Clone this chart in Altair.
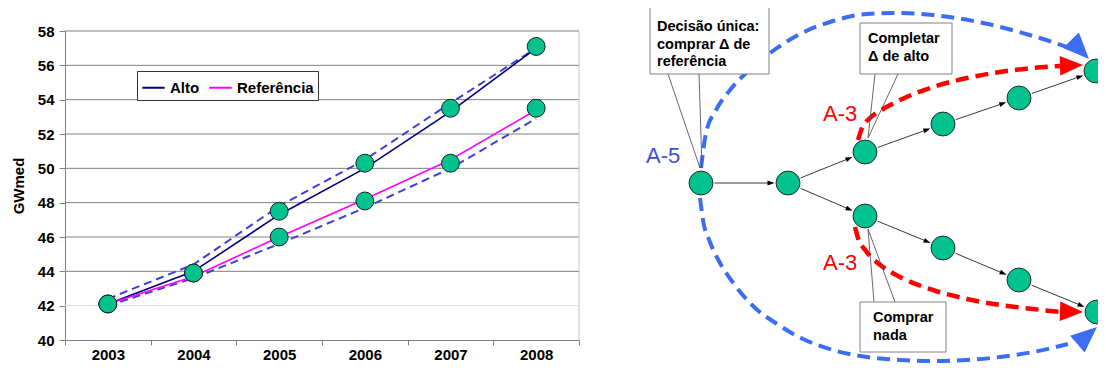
import math
import altair as alt
import pandas as pd

# ---------------- left chart data ----------------
years = [2003, 2004, 2005, 2006, 2007, 2008]
series_names = ["Alto", "Referência"]
alto = [42.1, 44.0, 47.3, 50.0, 53.3, 57.0]
referencia = [42.1, 43.7, 46.0, 48.2, 50.5, 53.4]
alto_marks = [42.1, 43.9, 47.5, 50.3, 53.5, 57.1]
ref_marks = [42.1, 43.9, 46.0, 48.1, 50.3, 53.5]
band_upper = [42.4, 44.4, 47.8, 50.5, 53.8, 57.0]
band_lower = [42.0, 43.6, 45.6, 47.7, 50.0, 52.9]
y_ticks = [40, 42, 44, 46, 48, 50, 52, 54, 56, 58]
x_edges = [2002.5, 2003.5, 2004.5, 2005.5, 2006.5, 2007.5, 2008.5]

# ---------------- right diagram data (diagram layout units) ----------------
node_x = [701, 788, 865, 943, 1019, 1096, 865, 943, 1019, 1097]
node_y = [183, 183, 152, 124, 98, 71, 216, 248, 280, 312]
edges_from = [0, 1, 2, 3, 4, 1, 6, 7, 8]
edges_to = [1, 2, 3, 4, 5, 6, 7, 8, 9]

blue_upper_x = [701, 706, 716, 730, 747, 770, 800, 833, 867, 900, 933, 983, 1033, 1067]
blue_upper_y = [168, 133, 110, 90, 72, 53, 34, 21, 14, 13, 15, 23, 36, 47]
blue_lower_x = [700, 703, 710, 720, 734, 753, 777, 803, 833, 867, 900, 933, 967, 1000, 1033, 1068]
blue_lower_y = [198, 220, 242, 263, 284, 306, 324, 339, 350, 357, 360, 361, 360, 357, 352, 344]
red_upper_x = [858, 862, 870, 883, 900, 933, 967, 1000, 1033, 1060]
red_upper_y = [140, 128, 118, 109, 100, 87, 78, 72, 68, 66]
red_lower_x = [855, 858, 866, 883, 900, 933, 967, 1000, 1033, 1060]
red_lower_y = [227, 238, 251, 267, 277, 290, 299, 305, 309, 312]

head_x = [1089, 1097, 1083, 1083]
head_y = [59, 327, 65, 312]
head_angle = [46, 319, 358, 2]
head_kind = ["blue", "blue", "red", "red"]

callout_x = [668, 699, 875, 898, 874, 895]
callout_y = [74, 74, 74, 74, 302, 302]
callout_x2 = [700, 702, 868, 868, 868, 868]
callout_y2 = [168, 168, 138, 138, 229, 229]

box_x = [650, 860, 860]
box_x2 = [769, 952, 946]
box_y = [6, 23, 302]
box_y2 = [74, 74, 352]

box_lines = ["Decisão única:", "comprar Δ de", "referência", "Completar", "Δ de alto", "Comprar", "nada"]
box_line_x = [657, 657, 657, 868, 868, 873, 873]
box_line_y = [31, 48.5, 66, 43, 60.5, 322, 339.5]

tag_text = ["A-5", "A-3", "A-3"]
tag_x = [646, 823, 823]
tag_y = [163, 121, 270]
tag_kind = ["blue", "red", "red"]

# ---------------- styling ----------------
FONT = "Liberation Sans"
GREEN = "#00C28E"
NAVY = "#000080"
MAGENTA = "#FF00FF"
DASH_BLUE = "#3F3FD6"
CURVE_BLUE = "#3B6EF5"
TAG_BLUE = "#3D4ED1"
RED = "#FF0000"
GRID = "#808080"

PLOT_W, PLOT_H, LEFT_W = 1033, 309, 514
ORIGIN_X, ORIGIN_Y = 65, 31
R_NODE = 13.5
ARROW = "M0,0L-2,-0.85L-2,0.85Z"

# ---------------- left chart ----------------
xs = alt.Scale(domain=[2002.5, 2008.5], range=[0, LEFT_W], nice=False, zero=False)
ys = alt.Scale(domain=[40, 58], nice=False, zero=False)

x_axis = alt.Axis(values=x_edges, title=None, grid=False,
                  labelExpr="datum.value < 2008 ? '' + (datum.value + 0.5) : ''",
                  labelOffset=LEFT_W / 12, labelFlush=False, labelOverlap=False,
                  labelFont=FONT, labelFontSize=15, labelFontWeight="bold", labelColor="black",
                  labelPadding=2, tickSize=5, tickColor=GRID, domainColor=GRID)
y_axis = alt.Axis(values=y_ticks, title="GWmed", grid=False,
                  titleFont=FONT, titleFontSize=15, titleFontWeight="bold", titleColor="black",
                  titlePadding=11, labelFont=FONT, labelFontSize=15, labelFontWeight="bold",
                  labelColor="black", labelPadding=5, labelFlush=False, labelOverlap=False,
                  tickSize=6, tickColor=GRID, domainColor=GRID)

grid_df = pd.DataFrame({"v": y_ticks})
grid_dark = alt.Chart(grid_df).mark_rule(color=GRID, strokeWidth=1).encode(
    x=alt.X(datum=x_edges[0], type="quantitative", scale=xs, axis=None),
    x2=alt.X2(datum=x_edges[-1]),
    y=alt.Y("v:Q", scale=ys, axis=None),
).transform_filter("datum.v > 42")
grid_light = alt.Chart(grid_df).mark_rule(color="#dcdcdc", strokeWidth=1).encode(
    x=alt.X(datum=x_edges[0], type="quantitative", scale=xs, axis=None),
    x2=alt.X2(datum=x_edges[-1]),
    y=alt.Y("v:Q", scale=ys, axis=None),
).transform_filter("datum.v == 42")
border = alt.Chart(pd.DataFrame({"v": [y_ticks[0]], "v2": [y_ticks[-1]]})).mark_rule(
    color="#c4c4c4", strokeWidth=1).encode(
    x=alt.X(datum=x_edges[-1], type="quantitative", scale=xs, axis=None),
    y=alt.Y("v:Q", scale=ys, axis=None),
    y2="v2:Q",
)

band_df = pd.DataFrame({"year": years * 2, "v": band_upper + band_lower,
                        "which": ["upper"] * 6 + ["lower"] * 6})
bands = alt.Chart(band_df).mark_line(color=DASH_BLUE, strokeWidth=2, strokeDash=[8, 5]).encode(
    x=alt.X("year:Q", scale=xs, axis=None),
    y=alt.Y("v:Q", scale=ys, axis=None),
    detail="which:N",
)

lines_df = pd.DataFrame({"year": years * 2, "v": alto + referencia,
                         "serie": [series_names[0]] * 6 + [series_names[1]] * 6})
legend = alt.Legend(orient="none", legendX=72, legendY=40, direction="horizontal", title=None,
                    symbolType="stroke", symbolStrokeWidth=2, symbolSize=500,
                    labelFont=FONT, labelFontSize=15, labelFontWeight="bold", labelColor="black",
                    strokeColor="#333333", fillColor="white", padding=4, columnPadding=5,
                    labelOffset=4)
lines = alt.Chart(lines_df).mark_line(strokeWidth=1.6).encode(
    x=alt.X("year:Q", scale=xs, axis=x_axis),
    y=alt.Y("v:Q", scale=ys, axis=y_axis),
    color=alt.Color("serie:N", scale=alt.Scale(domain=series_names, range=[NAVY, MAGENTA]),
                    legend=legend),
)

marks_df = pd.DataFrame({"year": years * 2, "v": alto_marks + ref_marks})
marks = alt.Chart(marks_df).mark_circle(size=320, fill=GREEN, stroke="#1e1e1e",
                                        strokeWidth=1, opacity=1).encode(
    x=alt.X("year:Q", scale=xs, axis=None),
    y=alt.Y("v:Q", scale=ys, axis=None),
)

left_layers = [grid_light, grid_dark, border, bands, lines, marks]

# ---------------- right diagram ----------------
dxs = alt.Scale(domain=[ORIGIN_X, ORIGIN_X + PLOT_W], nice=False, zero=False)
dys = alt.Scale(domain=[ORIGIN_Y, ORIGIN_Y + PLOT_H], reverse=True, nice=False, zero=False)


def X(f):
    return alt.X(f, type="quantitative", scale=dxs, axis=None)


def Y(f):
    return alt.Y(f, type="quantitative", scale=dys, axis=None)


curve_rows = []
for name, cx, cy in [("bu", blue_upper_x, blue_upper_y), ("bl", blue_lower_x, blue_lower_y),
                     ("ru", red_upper_x, red_upper_y), ("rl", red_lower_x, red_lower_y)]:
    for i, (a, b) in enumerate(zip(cx, cy)):
        curve_rows.append({"curve": name, "i": i, "x": a, "y": b})
curves_df = pd.DataFrame(curve_rows)

blue_curves = alt.Chart(curves_df).mark_line(
    color=CURVE_BLUE, strokeWidth=4, strokeDash=[13, 7], interpolate="monotone").encode(
    x=X("x"), y=Y("y"), detail="curve:N", order="i:Q",
).transform_filter("datum.curve[0] == 'b'")
red_curves = alt.Chart(curves_df).mark_line(
    color=RED, strokeWidth=4.5, strokeDash=[13, 7], interpolate="monotone").encode(
    x=X("x"), y=Y("y"), detail="curve:N", order="i:Q",
).transform_filter("datum.curve[0] == 'r'")

heads_df = pd.DataFrame({"x": head_x, "y": head_y, "angle": head_angle, "kind": head_kind})
blue_heads = alt.Chart(heads_df).mark_point(shape=ARROW, filled=True, color=CURVE_BLUE,
                                            size=676, opacity=1, strokeWidth=0).encode(
    x=X("x"), y=Y("y"), angle=alt.Angle("angle:Q", scale=None),
).transform_filter("datum.kind == 'blue'")
red_heads = alt.Chart(heads_df).mark_point(shape=ARROW, filled=True, color=RED,
                                           size=529, opacity=1, strokeWidth=0).encode(
    x=X("x"), y=Y("y"), angle=alt.Angle("angle:Q", scale=None),
).transform_filter("datum.kind == 'red'")

callout_df = pd.DataFrame({"x": callout_x, "y": callout_y, "x2": callout_x2, "y2": callout_y2})
callouts = alt.Chart(callout_df).mark_rule(color="#555555", strokeWidth=0.9).encode(
    x=X("x"), y=Y("y"), x2="x2:Q", y2="y2:Q")

boxes_df = pd.DataFrame({"x": box_x, "x2": box_x2, "y": box_y, "y2": box_y2})
boxes = alt.Chart(boxes_df).mark_rect(fill="white", stroke="#808080", strokeWidth=1).encode(
    x=X("x"), x2="x2:Q", y=Y("y"), y2="y2:Q")

box_text_df = pd.DataFrame({"t": box_lines, "x": box_line_x, "y": box_line_y})
box_text = alt.Chart(box_text_df).mark_text(
    align="left", baseline="alphabetic", font=FONT, fontSize=14.5, fontWeight="bold",
    color="black").encode(x=X("x"), y=Y("y"), text="t:N")

edge_rows, tip_rows = [], []
for a, b in zip(edges_from, edges_to):
    x0, y0, x1, y1 = node_x[a], node_y[a], node_x[b], node_y[b]
    d = math.hypot(x1 - x0, y1 - y0)
    ux, uy = (x1 - x0) / d, (y1 - y0) / d
    tx, ty = x1 - ux * R_NODE, y1 - uy * R_NODE
    edge_rows.append({"x": x0 + ux * R_NODE, "y": y0 + uy * R_NODE,
                      "x2": tx - ux * 4, "y2": ty - uy * 4})
    tip_rows.append({"x": tx, "y": ty, "angle": math.degrees(math.atan2(uy, ux)) % 360})
edges = alt.Chart(pd.DataFrame(edge_rows)).mark_rule(color="#222222", strokeWidth=0.9).encode(
    x=X("x"), y=Y("y"), x2="x2:Q", y2="y2:Q")
tips = alt.Chart(pd.DataFrame(tip_rows)).mark_point(
    shape="M0,0L-2,-0.7L-2,0.7Z", filled=True, color="black", size=49, opacity=1,
    strokeWidth=0).encode(x=X("x"), y=Y("y"), angle=alt.Angle("angle:Q", scale=None))

nodes_df = pd.DataFrame({"x": node_x, "y": node_y})
nodes = alt.Chart(nodes_df).mark_circle(size=math.pi * R_NODE ** 2, fill=GREEN, stroke="#2a2a2a",
                                        strokeWidth=1, opacity=1).encode(
    x=X("x"), y=Y("y"))

tags_df = pd.DataFrame({"t": tag_text, "x": tag_x, "y": tag_y, "kind": tag_kind})
tags_blue = alt.Chart(tags_df).mark_text(
    align="left", baseline="alphabetic", font=FONT, fontSize=22, color=TAG_BLUE).encode(
    x=X("x"), y=Y("y"), text="t:N").transform_filter("datum.kind == 'blue'")
tags_red = alt.Chart(tags_df).mark_text(
    align="left", baseline="alphabetic", font=FONT, fontSize=22, color=RED).encode(
    x=X("x"), y=Y("y"), text="t:N").transform_filter("datum.kind == 'red'")

diagram_layers = [blue_curves, red_curves, callouts, boxes, box_text, edges, tips,
                  nodes, blue_heads, red_heads, tags_blue, tags_red]

chart = alt.layer(*left_layers, *diagram_layers).resolve_scale(
    x="independent", y="independent"
).properties(
    width=PLOT_W, height=PLOT_H, background="white",
    autosize=alt.AutoSizeParams(type="none"),
    padding={"left": ORIGIN_X - 8, "top": ORIGIN_Y - 8, "right": 0, "bottom": 24},
).configure_view(strokeWidth=0)

chart.save("out.html", embed_options={"renderer": "svg", "actions": False})
